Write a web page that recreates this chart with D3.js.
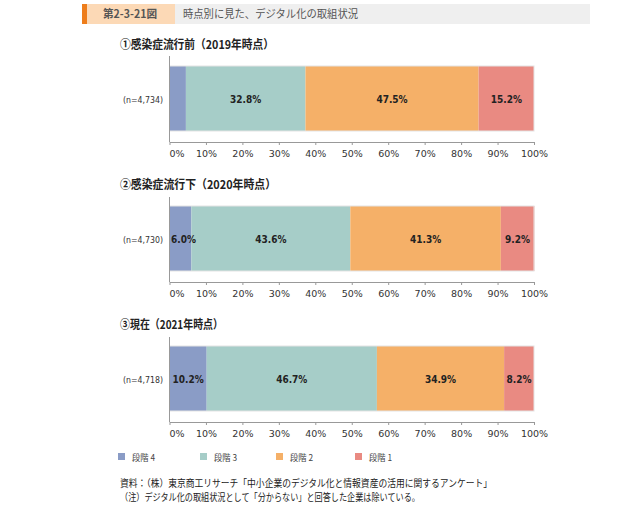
<!DOCTYPE html>
<html>
<head>
<meta charset="utf-8">
<script src="https://cdn.jsdelivr.net/npm/d3@7"></script>
<style>
  body { margin: 0; background: #fff; }
  svg { display: block; }
</style>
</head>
<body>
<div id="chart"></div>
<script>
const width = 627;
const height = 511;

const panels = ["①感染症流行前（2019年時点）", "②感染症流行下（2020年時点）", "③現在（2021年時点）"];
const nLabels = ["(n=4,734)", "(n=4,730)", "(n=4,718)"];
const keys = ["段階4", "段階3", "段階2", "段階1"];
const legendLabels = ["段階 4", "段階 3", "段階 2", "段階 1"];
const stage4 = [4.5, 6.0, 10.2];
const stage3 = [32.8, 43.6, 46.7];
const stage2 = [47.5, 41.3, 34.9];
const stage1 = [15.2, 9.2, 8.2];
const showStage4Label = [false, true, true];
const tickValues = [0, 10, 20, 30, 40, 50, 60, 70, 80, 90, 100];

const colors = ["#8a9cc6", "#a6cdc8", "#f5b068", "#e98a82"];
const jp = "'Noto Sans CJK JP', 'Noto Sans', sans-serif";
const num = "'DejaVu Sans', Verdana, sans-serif";
const numCond = "'DejaVu Sans Condensed', 'DejaVu Sans', sans-serif";

const data = panels.map((p, i) => ({
  title: p,
  n: nLabels[i],
  "段階4": stage4[i],
  "段階3": stage3[i],
  "段階2": stage2[i],
  "段階1": stage1[i],
  show4: showStage4Label[i]
}));

const colorScale = d3.scaleOrdinal().domain(keys).range(colors);

const xScale = d3.scaleLinear()
  .domain([0, 100])
  .range([169.5, 534]);

const svg = d3.select("#chart")
  .append("svg")
  .attr("width", width)
  .attr("height", height)
  .attr("viewBox", [0, 0, width, height]);

// header
svg.append("rect").attr("x", 87).attr("y", 4).attr("width", 503).attr("height", 20).attr("fill", "#efefef");
svg.append("rect").attr("x", 87).attr("y", 4).attr("width", 88).attr("height", 20).attr("fill", "#fcd9b6");
svg.append("rect").attr("x", 82).attr("y", 4).attr("width", 5).attr("height", 20).attr("fill", "#ee7d1a");
svg.append("text").attr("x", 103).attr("y", 18)
  .attr("font-family", jp).attr("font-size", 11).attr("font-weight", "bold").attr("fill", "#555")
  .attr("textLength", 54).attr("lengthAdjust", "spacingAndGlyphs")
  .text("第2-3-21図");
svg.append("text").attr("x", 183).attr("y", 18)
  .attr("font-family", jp).attr("font-size", 11).attr("fill", "#555")
  .attr("textLength", 175).attr("lengthAdjust", "spacingAndGlyphs")
  .text("時点別に見た、デジタル化の取組状況");

const panelTop = [32, 172, 312];
const titleLen = [154, 156, 103];
const stack = d3.stack().keys(keys);

data.forEach((d, i) => {
  const g = svg.append("g").attr("transform", `translate(0, ${panelTop[i]})`);

  g.append("text")
    .attr("x", 120).attr("y", 17)
    .attr("font-family", jp).attr("font-size", 12).attr("font-weight", "bold").attr("fill", "#222")
    .attr("textLength", titleLen[i]).attr("lengthAdjust", "spacingAndGlyphs")
    .text(d.title);

  const yScale = d3.scaleBand().domain([d.n]).range([34, 99]).padding(0);

  const series = stack([d]);

  g.selectAll("rect.seg")
    .data(series)
    .join("rect")
    .attr("class", "seg")
    .attr("fill", s => colorScale(s.key))
    .attr("x", s => xScale(s[0][0]))
    .attr("width", s => xScale(s[0][1]) - xScale(s[0][0]))
    .attr("y", yScale(d.n))
    .attr("height", yScale.bandwidth());

  g.append("rect")
    .attr("x", xScale(0)).attr("y", yScale(d.n))
    .attr("width", xScale(100) - xScale(0)).attr("height", yScale.bandwidth())
    .attr("fill", "none").attr("stroke", "#e4e4e4").attr("stroke-width", 1);

  g.selectAll("text.val")
    .data(series.filter(s => s.key !== "段階4" || d.show4))
    .join("text")
    .attr("class", "val")
    .attr("x", s => Math.max((xScale(s[0][0]) + xScale(s[0][1])) / 2, xScale(0) + 14))
    .attr("y", yScale(d.n) + yScale.bandwidth() / 2 + 4)
    .attr("text-anchor", "middle")
    .attr("font-family", numCond).attr("font-size", 10).attr("font-weight", "bold").attr("fill", "#222")
    .text(s => d[s.key].toFixed(1) + "%");

  g.append("text")
    .attr("x", 163).attr("y", yScale(d.n) + yScale.bandwidth() / 2 + 4)
    .attr("text-anchor", "end")
    .attr("font-family", num).attr("font-size", 9.5).attr("fill", "#333")
    .attr("textLength", 40).attr("lengthAdjust", "spacingAndGlyphs")
    .text(d.n);

  // y axis line
  g.append("line")
    .attr("x1", xScale(0)).attr("x2", xScale(0))
    .attr("y1", i === 0 ? 24 : 25).attr("y2", 110)
    .attr("stroke", "#999").attr("stroke-width", 1);

  const xAxis = d3.axisBottom(xScale)
    .tickValues(tickValues)
    .tickFormat(v => v + "%")
    .tickSize(3)
    .tickSizeOuter(0);

  const ax = g.append("g")
    .attr("transform", "translate(0, 110)")
    .call(xAxis);

  ax.select(".domain").attr("stroke", "#999");
  ax.selectAll(".tick line").attr("stroke", "#999");
  ax.selectAll(".tick text")
    .attr("font-family", num).attr("font-size", 9.5).attr("fill", "#333")
    .attr("dy", "0.9em")
    .attr("dx", v => v === 0 ? 7 : 0);
});

// legend
const legendX = [118, 200, 276, 355];
const legend = svg.append("g").attr("transform", "translate(0, 453)");
legend.selectAll("rect")
  .data(keys)
  .join("rect")
  .attr("x", (k, i) => legendX[i]).attr("y", 0)
  .attr("width", 7).attr("height", 7)
  .attr("fill", k => colorScale(k));
legend.selectAll("text")
  .data(legendLabels)
  .join("text")
  .attr("x", (k, i) => legendX[i] + 14).attr("y", 7.5)
  .attr("font-family", jp).attr("font-size", 9).attr("fill", "#444")
  .attr("textLength", 23).attr("lengthAdjust", "spacingAndGlyphs")
  .text(k => k);

// notes
svg.append("text").attr("x", 120).attr("y", 487)
  .attr("font-family", jp).attr("font-size", 10).attr("fill", "#222")
  .attr("textLength", 372).attr("lengthAdjust", "spacingAndGlyphs")
  .text("資料：（株）東京商工リサーチ「中小企業のデジタル化と情報資産の活用に関するアンケート」");
svg.append("text").attr("x", 120).attr("y", 501)
  .attr("font-family", jp).attr("font-size", 10).attr("fill", "#222")
  .attr("textLength", 300).attr("lengthAdjust", "spacingAndGlyphs")
  .text("（注）デジタル化の取組状況として「分からない」と回答した企業は除いている。");
</script>
</body>
</html>
